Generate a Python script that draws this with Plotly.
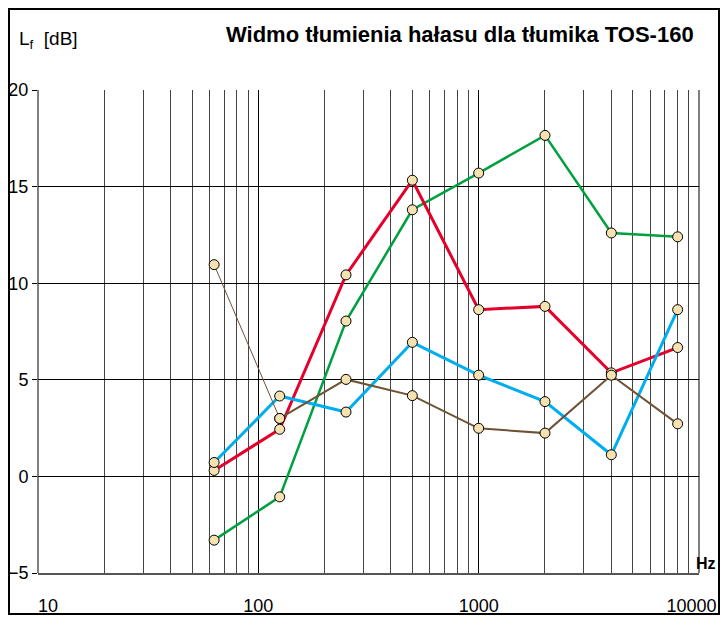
import plotly.graph_objects as go

freq = [63, 125, 250, 500, 1000, 2000, 4000, 8000]
green = [-3.3, -1.06, 8.04, 13.8, 15.7, 17.65, 12.6, 12.4]
red = [0.31, 2.44, 10.43, 15.33, 8.63, 8.8, 5.36, 6.67]
blue = [0.72, 4.16, 3.33, 6.94, 5.24, 3.87, 1.12, 8.63]
brown = [10.96, 3.0, 5.02, 4.18, 2.49, 2.24, 5.24, 2.72]

x_ticks = [10, 100, 1000, 10000]
x_tick_text = ["10", "100", "1000", "10000"]
y_ticks = [-5, 0, 5, 10, 15, 20]

title_text = "Widmo tłumienia hałasu dla tłumika TOS-160"
y_label = "L<sub>f</sub>  [dB]"
x_label = "Hz"

FONT = "Liberation Sans, Arial, sans-serif"
NB = "\u00a0"

marker_style = dict(size=10, color="#F5E2B0", line=dict(color="black", width=1))

# page body has an 8px margin; visible area ends at window x=720
OFF = 8
W, H = 728 - 2 * OFF, 623 - 2 * OFF
L = 38 - OFF
T = 90 - OFF
R = W - (699 - OFF)
B = H - (573 - OFF)
pw, ph = W - L - R, H - T - B


def px(xw):
    return (xw - OFF - L) / pw


def py(yw):
    return (H - B - (yw - OFF)) / ph


# edge labels kept inside the chart area like the original
shown_ticks = list(x_tick_text)
shown_ticks[0] = NB * 4 + shown_ticks[0]
shown_ticks[-1] = shown_ticks[-1] + NB * 3

fig = go.Figure()


def add_series(y, color, width):
    fig.add_trace(go.Scatter(x=freq, y=y, mode="lines+markers",
                             line=dict(color=color, width=width),
                             marker=marker_style, showlegend=False))


add_series(green, "#00A040", 2.5)
add_series(red, "#E4002B", 3)
add_series(blue, "#00AEEF", 3)
# brown: thin first segment, thicker rest
fig.add_trace(go.Scatter(x=freq[:2], y=brown[:2], mode="lines+markers",
                         line=dict(color="#6E5235", width=1),
                         marker=marker_style, showlegend=False))
fig.add_trace(go.Scatter(x=freq[1:], y=brown[1:], mode="lines+markers",
                         line=dict(color="#6E5235", width=2),
                         marker=marker_style, showlegend=False))

fig.update_xaxes(type="log", range=[1, 4], tickvals=x_ticks, ticktext=shown_ticks,
                 showgrid=True, gridcolor="black", gridwidth=1,
                 minor=dict(dtick="D1", showgrid=True, gridcolor="#444", gridwidth=1, ticks=""),
                 ticks="", ticklabelstandoff=15, automargin=False,
                 ticklabeloverflow="allow",
                 showline=True, linecolor="#555", linewidth=2, mirror=False,
                 zeroline=False,
                 tickfont=dict(family=FONT, size=18, color="black"))
fig.update_yaxes(range=[-5, 20], tickvals=y_ticks, showgrid=True, gridcolor="black",
                 gridwidth=1, zeroline=False, ticks="outside", ticklen=5,
                 tickcolor="black", showline=False, ticklabelstandoff=0, automargin=False,
                 ticklabeloverflow="allow",
                 tickfont=dict(family=FONT, size=18, color="black"))

# left/right plot edges
fig.add_shape(type="line", xref="paper", yref="paper", x0=0, x1=0, y0=0, y1=1,
              line=dict(color="black", width=1))
fig.add_shape(type="line", xref="paper", yref="paper", x0=1, x1=1, y0=0, y1=1,
              line=dict(color="black", width=1))

# outer frame
fig.add_shape(type="rect", xref="paper", yref="paper",
              x0=px(OFF + 1), x1=px(OFF + W - 1), y0=py(OFF + H - 1), y1=py(OFF + 1),
              line=dict(color="black", width=2), fillcolor="rgba(0,0,0,0)", layer="above")

fig.add_annotation(text=title_text, xref="paper", yref="paper", x=px(460), y=py(35),
                   xanchor="center", yanchor="middle", showarrow=False,
                   font=dict(family=FONT, size=22, color="black", weight="bold"))
fig.add_annotation(text=y_label, xref="paper", yref="paper", x=px(17), y=py(40),
                   xanchor="left", yanchor="middle", showarrow=False,
                   font=dict(family=FONT, size=19, color="black"))
fig.add_annotation(text=x_label, xref="paper", yref="paper", x=px(718), y=py(563),
                   xanchor="right", yanchor="middle", showarrow=False,
                   font=dict(family=FONT, size=16, color="black", weight="bold"))

fig.update_layout(width=W, height=H, autosize=False,
                  margin=dict(l=L, r=R, t=T, b=B, pad=0, autoexpand=False),
                  paper_bgcolor="white", plot_bgcolor="white",
                  showlegend=False)

fig.write_html("out.html")
